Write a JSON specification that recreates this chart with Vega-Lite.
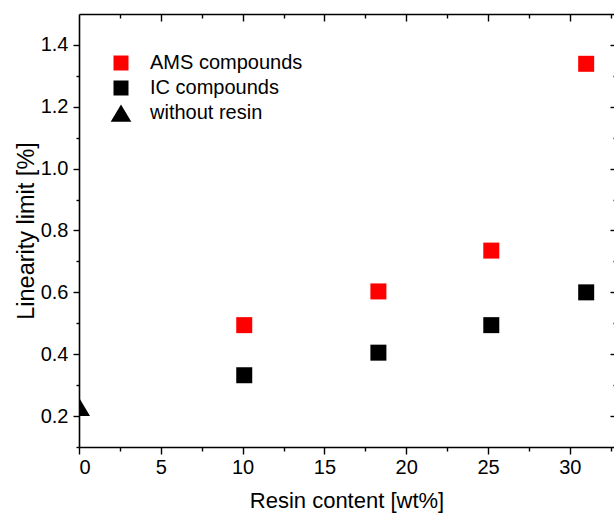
{
  "$schema": "https://vega.github.io/schema/vega-lite/v6.json",
  "autosize": {"type": "none"},
  "padding": {"left": 79, "top": 14, "right": 0, "bottom": 67},
  "width": 535,
  "height": 433,
  "background": "white",
  "config": {
    "view": {"stroke": null},
    "axis": {
      "grid": false,
      "domainColor": "#000000",
      "domainWidth": 1.6,
      "tickColor": "#000000",
      "tickWidth": 1.4,
      "labelColor": "#000000",
      "titleColor": "#000000",
      "labelFont": "Liberation Sans",
      "titleFont": "Liberation Sans",
      "labelFontSize": 20,
      "titleFontSize": 22,
      "titleFontWeight": "normal"
    },
    "legend": {"labelFont": "Liberation Sans", "labelFontSize": 20, "labelColor": "#000000"}
  },
  "data": {
    "values": [
      {"x": 10.1, "y": 0.494, "series": "AMS compounds"},
      {"x": 18.3, "y": 0.603, "series": "AMS compounds"},
      {"x": 25.2, "y": 0.735, "series": "AMS compounds"},
      {"x": 31.0, "y": 1.339, "series": "AMS compounds"},
      {"x": 10.1, "y": 0.332, "series": "IC compounds"},
      {"x": 18.3, "y": 0.405, "series": "IC compounds"},
      {"x": 25.2, "y": 0.494, "series": "IC compounds"},
      {"x": 31.0, "y": 0.600, "series": "IC compounds"},
      {"x": 0.0, "y": 0.23, "series": "without resin"}
    ]
  },
  "resolve": {"axis": {"x": "independent", "y": "independent"}},
  "layer": [
    {
      "mark": {"type": "point", "filled": true, "opacity": 1, "size": 256, "clip": true, "strokeWidth": 0},
      "encoding": {
        "x": {"field": "x", "type": "quantitative",
          "scale": {"domain": [0, 32.7], "nice": false, "zero": false},
          "axis": {"orient": "bottom", "values": [0, 5, 10, 15, 20, 25, 30], "tickSize": 7, "labelPadding": 3,
            "title": "Resin content [wt%]", "titleY": 53, "titleBaseline": "middle"}},
        "y": {"field": "y", "type": "quantitative",
          "scale": {"domain": [0.1, 1.5], "nice": false, "zero": false},
          "axis": {"orient": "left", "values": [0.2, 0.4, 0.6, 0.8, 1.0, 1.2, 1.4], "format": ".1f", "tickSize": 6, "labelPadding": 5,
            "title": "Linearity limit [%]", "titleFontSize": 23.5, "titleX": -53, "titleBaseline": "middle"}},
        "color": {"field": "series", "type": "nominal",
          "scale": {"domain": ["AMS compounds", "IC compounds", "without resin"], "range": ["#ff0000", "#000000", "#000000"]},
          "legend": {"title": null, "orient": "none", "legendX": 32, "legendY": 39, "symbolSize": 225, "rowPadding": 5, "labelOffset": 19, "symbolStrokeWidth": 0}},
        "shape": {"field": "series", "type": "nominal",
          "scale": {"domain": ["AMS compounds", "IC compounds", "without resin"], "range": ["square", "square", "M0,-1.15L1.375,1.15L-1.375,1.15Z"]},
          "legend": {"title": null, "orient": "none", "legendX": 32, "legendY": 39, "symbolSize": 225, "rowPadding": 5, "labelOffset": 19, "symbolStrokeWidth": 0}}
      }
    },
    {
      "mark": {"type": "point", "opacity": 0},
      "encoding": {
        "x": {"field": "x", "type": "quantitative",
          "axis": {"orient": "bottom", "values": [2.5, 7.5, 12.5, 17.5, 22.5, 27.5, 32.5], "tickSize": 4, "labels": false, "domain": false, "title": null}},
        "y": {"field": "y", "type": "quantitative",
          "axis": {"orient": "left", "values": [0.1, 0.3, 0.5, 0.7, 0.9, 1.1, 1.3], "tickSize": 3, "labels": false, "domain": false, "title": null}}
      }
    },
    {
      "mark": {"type": "point", "opacity": 0},
      "encoding": {
        "x": {"field": "x", "type": "quantitative",
          "axis": {"orient": "top", "values": [5, 10, 15, 20, 25, 30], "tickSize": -7, "labels": false, "domain": true, "title": null}},
        "y": {"field": "y", "type": "quantitative",
          "axis": {"orient": "right", "offset": 3, "values": [0.2, 0.4, 0.6, 0.8, 1.0, 1.2, 1.4], "tickSize": -7, "labels": false, "domain": false, "title": null}}
      }
    },
    {
      "mark": {"type": "point", "opacity": 0},
      "encoding": {
        "x": {"field": "x", "type": "quantitative",
          "axis": {"orient": "top", "values": [2.5, 7.5, 12.5, 17.5, 22.5, 27.5, 32.5], "tickSize": -4, "labels": false, "domain": false, "title": null}},
        "y": {"field": "y", "type": "quantitative",
          "axis": {"orient": "right", "offset": 3, "values": [0.3, 0.5, 0.7, 0.9, 1.1, 1.3], "tickSize": -4, "labels": false, "domain": false, "title": null}}
      }
    }
  ]
}
